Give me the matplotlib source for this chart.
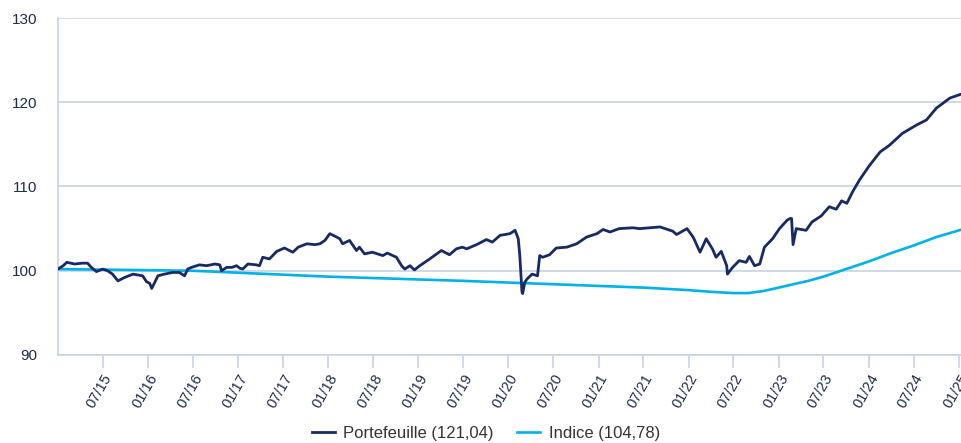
import numpy as np
import pandas as pd
import matplotlib
matplotlib.use("Agg")
import matplotlib.pyplot as plt
import matplotlib.dates as mdates

# values
ptf_dates = [
    "2015-01-01", "2015-01-22", "2015-02-06", "2015-03-09", "2015-04-10", "2015-05-01",
    "2015-05-16", "2015-06-06", "2015-07-01", "2015-07-21", "2015-08-10", "2015-09-01",
    "2015-09-28", "2015-11-01", "2015-11-21", "2015-12-10", "2015-12-26", "2016-01-08",
    "2016-01-16", "2016-01-28", "2016-02-10", "2016-03-07", "2016-04-10", "2016-05-07",
    "2016-05-28", "2016-06-10", "2016-06-25", "2016-07-28", "2016-08-25", "2016-09-28",
    "2016-10-18", "2016-10-25", "2016-11-15", "2016-12-06", "2016-12-25", "2017-01-07",
    "2017-01-19", "2017-02-09", "2017-03-15", "2017-03-28", "2017-04-10", "2017-05-07",
    "2017-06-06", "2017-07-07", "2017-08-10", "2017-09-01", "2017-10-06", "2017-11-07",
    "2017-11-28", "2017-12-18", "2018-01-07", "2018-01-28", "2018-02-16", "2018-02-28",
    "2018-03-28", "2018-04-25", "2018-05-07", "2018-05-28", "2018-06-28", "2018-08-10",
    "2018-08-28", "2018-10-04", "2018-10-25", "2018-11-07", "2018-11-28", "2018-12-16",
    "2019-01-07", "2019-02-16", "2019-03-16", "2019-04-04", "2019-05-07", "2019-06-04",
    "2019-06-28", "2019-07-16", "2019-08-25", "2019-10-04", "2019-10-28", "2019-11-28",
    "2020-01-07", "2020-01-28", "2020-02-10", "2020-02-16", "2020-02-25", "2020-02-28",
    "2020-03-07", "2020-03-16", "2020-04-06", "2020-04-28", "2020-05-07", "2020-05-19",
    "2020-06-16", "2020-07-13", "2020-08-25", "2020-10-04", "2020-11-13", "2020-12-25",
    "2021-01-19", "2021-02-16", "2021-03-25", "2021-05-19", "2021-06-16", "2021-09-07",
    "2021-10-28", "2021-11-13", "2021-12-25", "2022-01-19", "2022-02-16", "2022-03-13",
    "2022-04-07", "2022-04-22", "2022-05-13", "2022-06-04", "2022-06-07", "2022-06-28",
    "2022-07-25", "2022-08-22", "2022-09-04", "2022-09-25", "2022-10-16", "2022-11-04",
    "2022-12-07", "2023-01-04", "2023-02-04", "2023-02-16", "2023-02-22", "2023-02-28",
    "2023-03-13", "2023-04-22", "2023-05-16", "2023-06-22", "2023-07-25", "2023-08-22",
    "2023-09-13", "2023-10-04", "2023-10-28", "2023-11-25", "2024-01-04", "2024-02-16",
    "2024-03-25", "2024-05-16", "2024-07-13", "2024-08-22", "2024-10-01", "2024-11-25",
    "2025-01-13",
]
ptf_values = [
    100.2, 100.6, 101.0, 100.8, 100.9, 100.9,
    100.4, 99.9, 100.2, 100.0, 99.6, 98.8,
    99.2, 99.6, 99.5, 99.4, 98.7, 98.5,
    97.9, 98.6, 99.4, 99.6, 99.8, 99.8,
    99.4, 100.2, 100.4, 100.7, 100.6, 100.8,
    100.7, 100.0, 100.4, 100.4, 100.6, 100.3,
    100.2, 100.8, 100.7, 100.6, 101.6, 101.4,
    102.3, 102.7, 102.2, 102.8, 103.2, 103.1,
    103.2, 103.6, 104.4, 104.1, 103.8, 103.2,
    103.6, 102.4, 102.8, 102.0, 102.2, 101.8,
    102.1, 101.6, 100.6, 100.2, 100.6, 100.1,
    100.6, 101.4, 102.0, 102.4, 101.9, 102.6,
    102.8, 102.6, 103.1, 103.7, 103.4, 104.2,
    104.4, 104.8, 103.8, 101.9, 97.5, 97.3,
    98.6, 99.0, 99.6, 99.4, 101.8, 101.6,
    101.9, 102.7, 102.8, 103.2, 104.0, 104.4,
    104.9, 104.6, 105.0, 105.1, 105.0, 105.2,
    104.7, 104.3, 105.0, 104.0, 102.2, 103.8,
    102.6, 101.6, 102.3, 100.6, 99.6, 100.4,
    101.2, 101.0, 101.7, 100.6, 100.8, 102.8,
    103.8, 105.0, 106.0, 106.2, 106.2, 103.1,
    105.0, 104.8, 105.8, 106.5, 107.6, 107.3,
    108.3, 108.0, 109.4, 110.8, 112.5, 114.1,
    114.9, 116.3, 117.3, 117.9, 119.3, 120.5,
    121.0,
]

idx_dates = [
    "2015-01-01", "2016-07-01", "2018-01-01", "2019-07-01", "2020-07-01", "2021-07-01",
    "2022-01-01", "2022-04-01", "2022-07-01", "2022-09-01", "2022-11-01", "2023-01-01",
    "2023-03-01", "2023-05-01", "2023-07-01", "2023-10-01", "2024-01-01", "2024-04-01",
    "2024-07-01", "2024-10-01", "2025-01-13",
]
idx_values = [
    100.2, 100.0, 99.3, 98.8, 98.4, 98.0,
    97.7, 97.5, 97.35, 97.35, 97.6, 98.0,
    98.4, 98.8, 99.3, 100.2, 101.1, 102.1,
    103.0, 104.0, 104.9,
]

labels = ["Portefeuille (121,04)", "Indice (104,78)"]
navy = "#172a63"
cyan = "#00b2ea"
grid_col = "#c8d3e4"
text_col = "#1e2b4a"

plt.rcParams["font.family"] = ["Liberation Sans", "DejaVu Sans"]

fig = plt.figure(figsize=(9.62, 4.43), dpi=100)
ax = fig.add_axes([58 / 962, 1 - 355 / 443, 1 - 58 / 962, (355 - 18) / 443])

ax.plot(pd.to_datetime(idx_dates), idx_values, color=cyan, lw=1.9, label=labels[1], zorder=2)
ax.plot(pd.to_datetime(ptf_dates), ptf_values, color=navy, lw=2.0, label=labels[0], zorder=3)

ax.set_xlim(pd.Timestamp("2015-01-01"), pd.Timestamp("2025-01-13"))
ax.set_ylim(90, 130)
ax.set_yticks([90, 100, 110, 120, 130])
ax.yaxis.grid(True, color=grid_col, lw=1.2)
ax.set_axisbelow(True)

xt = pd.date_range("2015-07-01", "2025-01-01", freq="6MS")
ax.set_xticks(xt)
ax.xaxis.set_major_formatter(mdates.DateFormatter("%m/%y"))
for lab in ax.get_xticklabels():
    lab.set_rotation(60)
    lab.set_ha("right")
    lab.set_rotation_mode("anchor")

ax.tick_params(axis="x", colors=grid_col, length=9, width=1.2, labelcolor=text_col,
               labelsize=10.5, pad=3)
ax.tick_params(axis="y", length=0, labelcolor=text_col, labelsize=11, pad=15)

for s in ["top", "right"]:
    ax.spines[s].set_visible(False)
for s in ["left", "bottom"]:
    ax.spines[s].set_color(grid_col)
    ax.spines[s].set_linewidth(1.2)

h, l = ax.get_legend_handles_labels()
fig.legend(h[::-1], l[::-1], loc="lower center", bbox_to_anchor=(0.505, -0.03), ncol=2,
           frameon=False, fontsize=12, handlelength=1.4, columnspacing=1.4,
           handletextpad=0.5, labelcolor="#333333")

fig.savefig("out.png", dpi=100)
